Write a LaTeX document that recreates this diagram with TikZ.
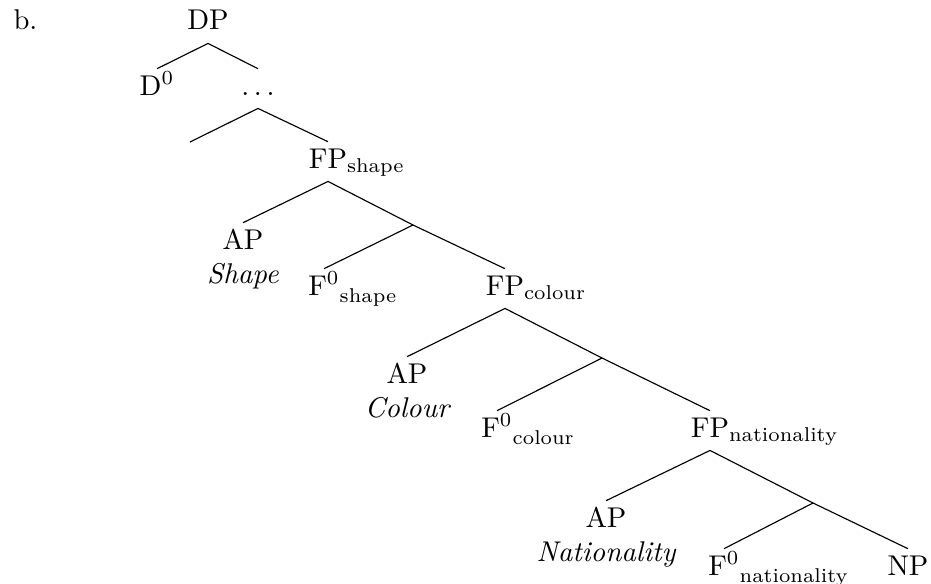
\documentclass[tikz,border=0pt]{standalone}
\usepackage{amsmath}
\usepackage{tikz}
\newcommand{\fp}[1]{FP\rlap{$_{\text{#1}}$}}
\newcommand{\fhead}[1]{F$^0$\rlap{\raisebox{-1pt}{$_{\text{#1}}$}}}
\tikzset{
  cat/.style    = {anchor=base, inner sep=2pt, text height=7pt, text depth=2.5pt},
  gloss/.style  = {anchor=base, inner sep=0pt, font=\itshape},
  branch/.style = {line width=0.4pt}
}

\begin{document}
\begin{tikzpicture}[x=0.35pt,y=-0.35pt]
  \useasboundingbox (0,0) rectangle (931,584);
  \node[anchor=base west,inner sep=0pt] (lbl) at (13,30) {b.};
  % --- top: DP and the dots
  \node[cat] (dp)   at (208,30) {DP};
  \node[cat] (d0)   at (157,95) {D$^0$};
  \node[cat] (dots) at (258,95) {$\ldots$};
  \coordinate (gap) at (190,142);
  \draw[branch] (d0.north) -- (dp.south) -- (dots.north);
  \draw[branch] (gap) -- (dots.south);
  % --- shape
  \node[cat] (fpshape) at (328,168) {\fp{shape}};
  \node[cat] (apshape) at (243,249) {AP};
  \node[gloss] (shape) at (243,283) {Shape};
  \node[cat] (fshape)  at (324,295) {\fhead{shape}};
  \coordinate (barshape) at (413,225);
  \draw[branch] (dots.south) -- (fpshape.north);
  \draw[branch] (apshape.north) -- (fpshape.south);
  % --- colour
  \node[cat] (fpcolour) at (505,295) {\fp{colour}};
  \node[cat] (apcolour) at (407,383) {AP};
  \node[gloss] (colour) at (407,417) {Colour};
  \node[cat] (fcolour)  at (497,437) {\fhead{colour}};
  \coordinate (barcolour) at (602,358);
  \draw[branch] (fpshape.south) -- (barshape) -- (fpcolour.north);
  \draw[branch] (fshape.north) -- (barshape);
  \draw[branch] (apcolour.north) -- (fpcolour.south);
  % --- nationality
  \node[cat] (fpnat) at (710,437) {\fp{nationality}};
  \node[cat] (apnat) at (606,527) {AP};
  \node[gloss] (nat) at (606,561) {Nationality};
  \node[cat] (fnat)  at (724,575) {\fhead{nationality}};
  \node[cat] (np)    at (908,575) {NP};
  \coordinate (barnat) at (813,503);
  \draw[branch] (fpcolour.south) -- (barcolour) -- (fpnat.north);
  \draw[branch] (fcolour.north) -- (barcolour);
  \draw[branch] (apnat.north) -- (fpnat.south);
  \draw[branch] (fpnat.south) -- (barnat) -- (np.north);
  \draw[branch] (fnat.north) -- (barnat);
\end{tikzpicture}
\end{document}
